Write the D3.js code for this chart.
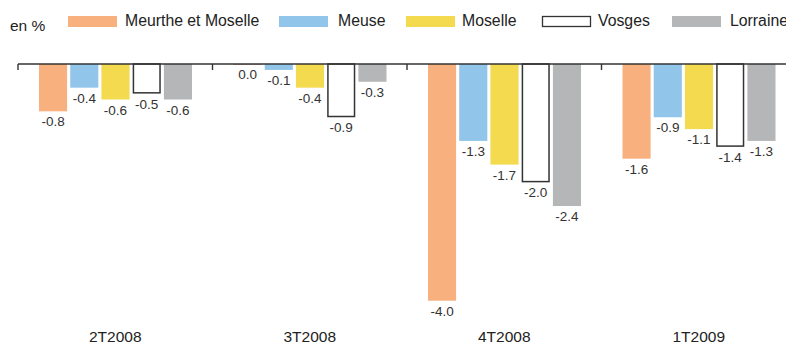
<!DOCTYPE html>
<html>
<head>
<meta charset="utf-8">
<script src="https://cdn.jsdelivr.net/npm/d3@7"></script>
<style>
  body { margin: 0; background: #fff; }
  svg { display: block; font-family: "Liberation Sans", Arial, sans-serif; }
</style>
</head>
<body>
<div id="chart"></div>
<script>
// Évolution de l'emploi par trimestre (en %)

const categories = ["2T2008", "3T2008", "4T2008", "1T2009"];
const series = ["Meurthe et Moselle", "Meuse", "Moselle", "Vosges", "Lorraine"];
const colors = ["#F8B07E", "#91C6EA", "#F3DA4E", "#FFFFFF", "#B5B6B8"];

const meurthe  = [-0.8, 0.0, -4.0, -1.6];
const meuse    = [-0.4, -0.1, -1.3, -0.9];
const moselle  = [-0.6, -0.4, -1.7, -1.1];
const vosges   = [-0.5, -0.9, -2.0, -1.4];
const lorraine = [-0.6, -0.3, -2.4, -1.3];

const values = [meurthe, meuse, moselle, vosges, lorraine];

const width = 786, height = 343;
const zeroY = 64;

const svg = d3.select("#chart").append("svg")
  .attr("width", width)
  .attr("height", height);

// Échelles
const x0 = d3.scaleBand().domain(categories).range([18, 18 + 4 * 194.5]);
const x1 = d3.scaleBand().domain(series).range([21, 174]).paddingInner(0.1);
const y = d3.scaleLinear().domain([0, -4]).range([zeroY, 300.7]);

// Barres
const rows = categories.map((c, i) => ({
  cat: c,
  vals: series.map((s, j) => ({ s, j, v: values[j][i] }))
}));

const grp = svg.selectAll("g.grp")
  .data(rows)
  .join("g")
  .attr("class", "grp")
  .attr("transform", d => `translate(${x0(d.cat)},0)`);

grp.selectAll("rect")
  .data(d => d.vals)
  .join("rect")
  .attr("x", d => x1(d.s) + (d.s === "Vosges" ? 0.75 : 0))
  .attr("y", zeroY)
  .attr("width", d => x1.bandwidth() - (d.s === "Vosges" ? 1.5 : 0))
  .attr("height", d => Math.max(1, y(d.v) - zeroY - (d.s === "Vosges" ? 0.75 : 0)))
  .attr("fill", d => d.v === 0 ? "#D9B9A0" : colors[d.j])
  .attr("stroke", d => d.s === "Vosges" ? "#333" : "none")
  .attr("stroke-width", 1.5);

grp.selectAll("text.val")
  .data(d => d.vals)
  .join("text")
  .attr("class", "val")
  .attr("x", d => x1(d.s) + x1.bandwidth() / 2)
  .attr("y", d => y(d.v) + 15)
  .attr("text-anchor", "middle")
  .style("font-size", "13.5px")
  .style("fill", "#333")
  .text(d => d.v.toFixed(1));

// Axe horizontal
svg.append("line")
  .attr("x1", 18).attr("x2", width)
  .attr("y1", zeroY).attr("y2", zeroY)
  .attr("stroke", "#333")
  .attr("stroke-width", 1.4);

svg.selectAll("line.tick")
  .data(categories)
  .join("line")
  .attr("class", "tick")
  .attr("x1", d => x0(d)).attr("x2", d => x0(d))
  .attr("y1", zeroY).attr("y2", zeroY + 6)
  .attr("stroke", "#333")
  .attr("stroke-width", 1.4);

// Libellés des trimestres
svg.selectAll("text.cat")
  .data(categories)
  .join("text")
  .attr("class", "cat")
  .attr("x", d => x0(d) + x0.bandwidth() / 2)
  .attr("y", 341.5)
  .attr("text-anchor", "middle")
  .style("font-size", "15.5px")
  .style("fill", "#222")
  .text(d => d);

// Unité
svg.append("text")
  .attr("x", 10).attr("y", 30.5)
  .style("font-size", "15.5px")
  .style("fill", "#222")
  .text("en %");

// Légende
const legendX = [68, 279, 406, 542, 672];
const legend = svg.selectAll("g.leg")
  .data(series)
  .join("g")
  .attr("class", "leg")
  .attr("transform", (d, i) => `translate(${legendX[i]},16)`);

legend.append("rect")
  .attr("x", (d, i) => i === 3 ? 0.5 : 0)
  .attr("y", (d, i) => i === 3 ? 0.5 : 0)
  .attr("width", (d, i) => i === 3 ? 48 : 49)
  .attr("height", (d, i) => i === 3 ? 10 : 11)
  .attr("fill", (d, i) => colors[i])
  .attr("stroke", (d, i) => i === 3 ? "#333" : "none")
  .attr("stroke-width", 1.3);

legend.append("text")
  .attr("x", (d, i) => i === 0 ? 57 : i === 1 ? 59 : i === 4 ? 58 : 56)
  .attr("y", 9.5)
  .style("font-size", "15.8px")
  .style("fill", "#222")
  .text(d => d);
</script>
</body>
</html>
